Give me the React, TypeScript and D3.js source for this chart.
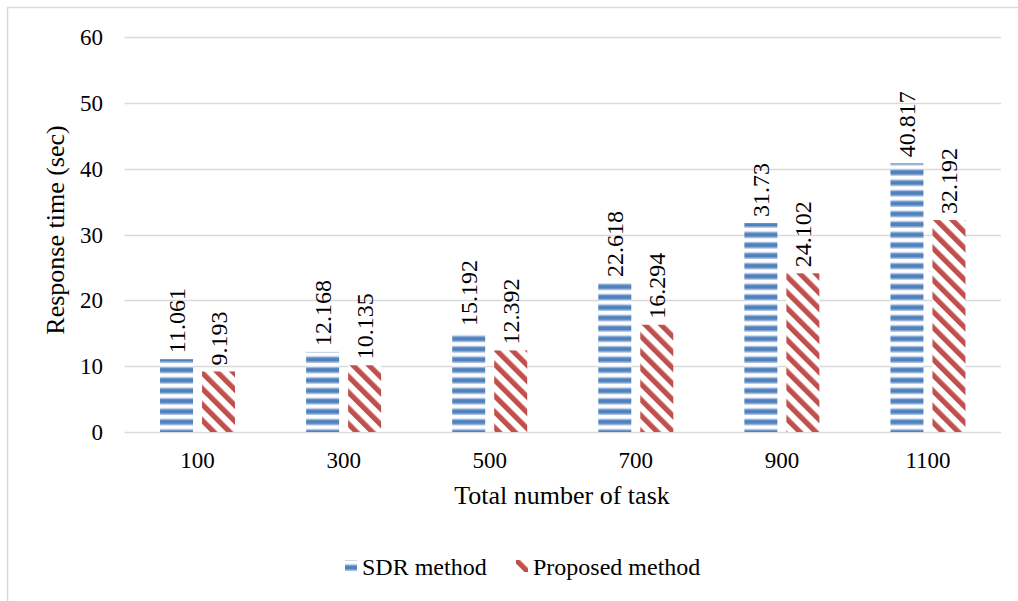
import React from "react";
import * as d3 from "d3";

const categories = ["100", "300", "500", "700", "900", "1100"];
const sdrValues = [11.061, 12.168, 15.192, 22.618, 31.73, 40.817];
const proposedValues = [9.193, 10.135, 12.392, 16.294, 24.102, 32.192];
const yTicks = [0, 10, 20, 30, 40, 50, 60];
const seriesNames = ["SDR method", "Proposed method"];

const W = 1018;
const H = 601;
const FONT = "Liberation Serif, Times New Roman, serif";
const BLUE = "#4F81BD";
const RED = "#C0504D";

const T = (props: any) => (
  <text {...props} style={{ fontFamily: FONT, ...(props.style || {}) }} fill="#000" />
);

export default function App() {
  const x = d3.scaleBand<string>().domain(categories).range([124.5, 1001]).padding(0);
  const y = d3.scaleLinear().domain([0, 60]).range([432, 37]);
  const barW = 33;
  const gap = 9;

  const fmt = (v: number) => String(v);

  return (
    <svg
      width={W}
      height={H}
      style={{ position: "absolute", left: 0, top: 0, background: "#fff", fontFamily: FONT }}
    >
      <defs>
        <pattern id="hstripe" patternUnits="userSpaceOnUse" width="10" height="10.4">
          <rect x="0" y="0" width="10" height="10.4" fill="#fff" />
          <rect x="0" y="2.6" width="10" height="1.3" fill="#A9C0E0" />
          <rect x="0" y="3.9" width="10" height="4.4" fill={BLUE} />
          <rect x="0" y="8.3" width="10" height="1.1" fill="#A9C0E0" />
        </pattern>
        <pattern
          id="dstripe"
          patternUnits="userSpaceOnUse"
          width="11.2"
          height="11.2"
          patternTransform="rotate(-45)"
        >
          <rect x="0" y="0" width="11.2" height="11.2" fill="#fff" />
          <rect x="0" y="0" width="5.2" height="11.2" fill={RED} />
        </pattern>
      </defs>
      <rect x={0} y={0} width={W} height={H} fill="#fff" />
      <path d={`M7.5,${H + 2} L7.5,7.5 L${W + 2},7.5`} fill="none" stroke="#d9d9d9" strokeWidth={1.5} />

      {yTicks.map((t) => (
        <line
          key={t}
          x1={124.5}
          x2={1001}
          y1={Math.round(y(t)) + 0.5}
          y2={Math.round(y(t)) + 0.5}
          stroke="#d9d9d9"
          strokeWidth={1.3}
        />
      ))}
      {yTicks.map((t) => (
        <T key={"yl" + t} x={103} y={y(t)} dy="0.35em" textAnchor="end" fontSize={23}>
          {t}
        </T>
      ))}

      {categories.map((c, i) => {
        const cx = (x(c) as number) + x.bandwidth() / 2;
        const x1 = cx - gap / 2 - barW;
        const x2 = cx + gap / 2;
        const v1 = sdrValues[i];
        const v2 = proposedValues[i];
        return (
          <g key={c}>
            <rect x={x1} y={y(v1)} width={barW} height={y(0) - y(v1)} fill="url(#hstripe)" />
            <rect x={x2} y={y(v2)} width={barW} height={y(0) - y(v2)} fill="url(#dstripe)" />
            <T transform={`translate(${x1 + barW / 2 + 8},${y(v1) - 6}) rotate(-90)`} fontSize={24}>
              {fmt(v1)}
            </T>
            <T transform={`translate(${x2 + barW / 2 + 8},${y(v2) - 6}) rotate(-90)`} fontSize={24}>
              {fmt(v2)}
            </T>
            <T x={cx} y={468} textAnchor="middle" fontSize={23}>
              {c}
            </T>
          </g>
        );
      })}

      <T transform={`translate(64,230) rotate(-90)`} textAnchor="middle" fontSize={26}>
        Response time (sec)
      </T>
      <T x={562} y={504} textAnchor="middle" fontSize={26}>
        Total number of task
      </T>

      <g>
        <rect x={345} y={560} width={12} height={12} fill="url(#hstripe)" />
        <T x={362} y={575} fontSize={24}>
          {seriesNames[0]}
        </T>
        <rect x={516} y={560} width={12} height={12} fill="url(#dstripe)" />
        <T x={533} y={575} fontSize={24}>
          {seriesNames[1]}
        </T>
      </g>
    </svg>
  );
}
